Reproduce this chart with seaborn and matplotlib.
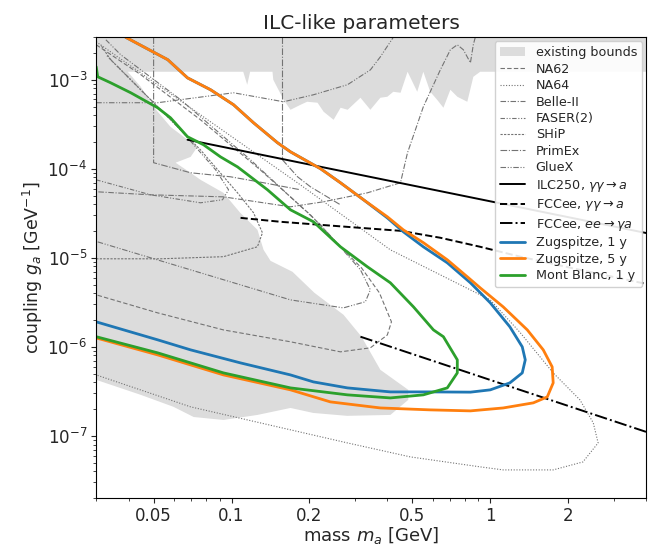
import numpy as np
import matplotlib
matplotlib.use("Agg")
import matplotlib.pyplot as plt
import matplotlib.ticker as mticker
from matplotlib.patches import Patch
import seaborn as sns

# existing bounds (grey region), mass [GeV] / coupling [GeV^-1]
bounds_m = [0.03, 4.0, 4.0, 0.914, 0.86, 0.815, 0.746, 0.701, 0.659, 0.623, 0.586, 0.551,
            0.522, 0.479, 0.450, 0.422, 0.400, 0.376, 0.344, 0.315, 0.281, 0.264, 0.248,
            0.227, 0.215, 0.196, 0.185, 0.169, 0.159, 0.145, 0.144, 0.118, 0.115, 0.111,
            0.0397, 0.0446, 0.05, 0.0581, 0.0676, 0.0714, 0.0739, 0.0695, 0.0608, 0.0695,
            0.076, 0.0931, 0.108, 0.126, 0.133, 0.1415, 0.172, 0.209, 0.271, 0.318, 0.376,
            0.482, 0.482, 0.411, 0.28, 0.207, 0.169, 0.126, 0.0931, 0.0714, 0.0597, 0.0446, 0.03]
bounds_g = [3e-3, 3e-3, 1.23e-3, 1.23e-3, 1.08e-3, 5.66e-4, 6.44e-4, 7.72e-4, 4.85e-4, 5.96e-4,
            7.33e-4, 1.23e-3, 7.33e-4, 1.23e-3, 7.14e-4, 7.33e-4, 6.44e-4, 6.28e-4, 4.6e-4,
            6.28e-4, 4.6e-4, 4.85e-4, 3.55e-4, 4.37e-4, 5.52e-4, 5.66e-4, 5.24e-4, 4.6e-4,
            5.96e-4, 1.0e-3, 1.23e-3, 1.23e-3, 8.79e-4, 1.23e-3, 1.23e-3, 8.34e-4, 4.97e-4,
            2.96e-4, 2.12e-4, 1.96e-4, 1.77e-4, 1.36e-4, 1.17e-4, 9.0e-5, 7.5e-5, 5.37e-5,
            3.21e-5, 2.06e-5, 1.23e-5, 9.25e-6, 6.97e-6, 4.05e-6, 2.29e-6, 1.3e-6, 5.52e-7,
            3.29e-7, 2.54e-7, 1.72e-7, 1.68e-7, 1.81e-7, 2.06e-7, 1.72e-7, 1.51e-7, 1.63e-7,
            2.12e-7, 2.89e-7, 4.26e-7]

# other experiments
na62_m = [0.03, 0.0446, 0.0759, 0.129, 0.2018, 0.2706, 0.3177, 0.3727, 0.415, 0.40, 0.344,
          0.2636, 0.169, 0.0931, 0.0518, 0.03]
na62_g = [2.47e-3, 1.14e-3, 3.55e-4, 9.75e-5, 3.04e-5, 1.23e-5, 7.73e-6, 4.05e-6, 1.91e-6,
          1.36e-6, 9.75e-7, 8.79e-7, 1.14e-6, 1.55e-6, 2.41e-6, 3.84e-6]
na64_m = [0.03, 0.0759, 0.1846, 0.411, 0.641, 1.0, 1.306, 1.75, 2.22, 2.50, 2.61, 2.28, 1.75,
          1.122, 0.914, 0.491, 0.2805, 0.169, 0.0695, 0.03]
na64_g = [2.67e-3, 4.04e-4, 6.6e-5, 1.23e-5, 6.44e-6, 3.37e-6, 1.44e-6, 5.1e-7, 2.54e-7,
          1.4e-7, 8.34e-8, 5.1e-8, 4.15e-8, 4.15e-8, 4.49e-8, 5.81e-8, 8.34e-8, 1.17e-7,
          2.12e-7, 4.84e-7]
belle_m = [0.875, 0.8596, 0.838, 0.787, 0.7456, 0.7009, 0.641, 0.5511, 0.4786, 0.4497, 0.335,
           0.2265, 0.169, 0.0931, 0.0487, 0.03]
belle_g = [3e-3, 2.47e-3, 1.55e-3, 2.17e-3, 2.47e-3, 2.17e-3, 1.29e-3, 4.97e-4, 1.51e-4,
           6.97e-5, 5.37e-5, 4.26e-5, 3.74e-5, 4.84e-5, 5.1e-5, 5.52e-5]
faser_m = [0.03, 0.0487, 0.0759, 0.0923, 0.0974, 0.0868, 0.0636, 0.0446, 0.0327]
faser_g = [7.52e-5, 5.1e-5, 4.15e-5, 4.49e-5, 5.81e-5, 9.75e-5, 2.74e-4, 7.72e-4, 1.91e-3]
ship_m = [0.03, 0.0532, 0.0931, 0.1259, 0.1317, 0.1216, 0.1055, 0.0759, 0.0487, 0.0341, 0.0312]
ship_g = [9.75e-6, 9.75e-6, 1.03e-5, 1.33e-5, 1.91e-5, 3.21e-5, 5.37e-5, 1.63e-4, 5.96e-4,
          1.68e-3, 2.47e-3]
primex_m = [0.05, 0.05, 0.0695, 0.0991, 0.133, 0.1846]
primex_g = [3e-3, 1.17e-4, 9.02e-5, 8.13e-5, 6.97e-5, 5.81e-5]
primex2_m = [0.1574, 0.1574, 0.18, 0.2018, 0.2636]
primex2_g = [3e-3, 1.26e-4, 8.13e-5, 6.28e-5, 3.94e-5]
gluex_m = [0.0304, 0.169, 0.2706, 0.329, 0.344, 0.315, 0.221, 0.1184, 0.0636, 0.0373, 0.0327]
gluex_g = [1.51e-5, 3.37e-6, 2.74e-6, 3.21e-6, 4.37e-6, 7.33e-6, 2.35e-5, 1.26e-4, 5.96e-4,
           1.91e-3, 2.81e-3]
gluex2_m = [0.03, 0.0518, 0.1018, 0.1588, 0.2073, 0.2805, 0.344, 0.376, 0.422]
gluex2_g = [5.52e-4, 5.52e-4, 7.14e-4, 5.66e-4, 6.78e-4, 8.79e-4, 1.29e-3, 1.81e-3, 3e-3]

# collider projections
ilc_m = [0.0676, 4.0]
ilc_g = [2.12e-4, 1.9e-5]
fcc_gg_m = [0.1084, 0.1545, 0.315, 0.450, 0.641, 0.914, 1.306, 2.22, 4.0]
fcc_gg_g = [2.81e-5, 2.54e-5, 2.17e-5, 2.01e-5, 1.68e-5, 1.33e-5, 1.03e-5, 7.33e-6, 5.1e-6]
fcc_ee_m = [0.315, 4.0]
fcc_ee_g = [1.3e-6, 1.11e-7]

# sensitivity curves
zug5_m = [0.039, 0.0567, 0.0676, 0.083, 0.1018, 0.1216, 0.1506, 0.169, 0.221, 0.2636, 0.3236,
          0.400, 0.4613, 0.5511, 0.682, 0.8151, 0.914, 1.122, 1.39, 1.602, 1.734, 1.75, 1.66,
          1.466, 1.122, 0.838, 0.586, 0.376, 0.241, 0.169, 0.0931, 0.0518, 0.03]
zug5_g = [3e-3, 1.68e-3, 1.05e-3, 7.72e-4, 5.24e-4, 3.29e-4, 1.96e-4, 1.55e-4, 1e-4, 6.97e-5,
          4.49e-5, 2.89e-5, 2.06e-5, 1.48e-5, 9.5e-6, 6.12e-6, 4.6e-6, 2.81e-6, 1.55e-6,
          9.25e-7, 5.96e-7, 3.94e-7, 2.74e-7, 2.35e-7, 2.06e-7, 1.91e-7, 1.96e-7, 2.06e-7,
          2.41e-7, 3.29e-7, 4.84e-7, 8.13e-7, 1.26e-6]
zug1_m = [0.039, 0.0567, 0.0676, 0.083, 0.1018, 0.1216, 0.1506, 0.169, 0.221, 0.2636, 0.3236,
          0.400, 0.4613, 0.5511, 0.682, 0.838, 1.0, 1.19, 1.329, 1.365, 1.329, 1.19, 1.0, 0.838,
          0.586, 0.411, 0.2805, 0.2073, 0.169, 0.1084, 0.0695, 0.0518, 0.03]
zug1_g = [3e-3, 1.68e-3, 1.05e-3, 7.72e-4, 5.24e-4, 3.29e-4, 1.96e-4, 1.55e-4, 1e-4, 6.97e-5,
          4.49e-5, 2.81e-5, 1.96e-5, 1.33e-5, 8.79e-6, 5.24e-6, 3.12e-6, 1.68e-6, 1e-6, 7.15e-7,
          5.1e-7, 3.94e-7, 3.29e-7, 3.1e-7, 3.12e-7, 3.12e-7, 3.46e-7, 4.04e-7, 4.84e-7, 6.6e-7,
          9.25e-7, 1.2e-6, 1.91e-6]
mb_m = [0.03, 0.0304, 0.0341, 0.0408, 0.0518, 0.0581, 0.0676, 0.078, 0.0907, 0.1055, 0.1184,
        0.1377, 0.169, 0.2073, 0.2636, 0.335, 0.411, 0.505, 0.603, 0.6588, 0.7456, 0.7456,
        0.682, 0.551, 0.411, 0.2805, 0.169, 0.0931, 0.0518, 0.03]
mb_g = [1.4e-3, 1.08e-3, 9.25e-4, 7.14e-4, 4.85e-4, 3.74e-4, 2.29e-4, 1.86e-4, 1.36e-4, 1.05e-4,
        8.13e-5, 5.81e-5, 3.46e-5, 2.54e-5, 1.33e-5, 7.93e-6, 5.24e-6, 2.81e-6, 1.55e-6, 1.3e-6,
        7.15e-7, 5.1e-7, 3.46e-7, 2.89e-7, 2.67e-7, 2.89e-7, 3.46e-7, 5.1e-7, 8.57e-7, 1.3e-6]

x_ticks = [0.05, 0.1, 0.2, 0.5, 1, 2]
x_ticklabels = ["0.05", "0.1", "0.2", "0.5", "1", "2"]

sns.set_style("ticks")
plt.rcParams["font.family"] = ["DejaVu Sans"]

fig, ax = plt.subplots(figsize=(6.5, 5.48), dpi=100)
fig.subplots_adjust(left=0.148, right=0.994, top=0.932, bottom=0.091)
ax.set_xscale("log")
ax.set_yscale("log")

ax.fill(bounds_m, bounds_g, color="#dcdcdc", lw=0, zorder=0)

grey = "0.45"
lw_g = 0.8
def grey_line(m, g, ls, label=None):
    sns.lineplot(x=m, y=g, sort=False, estimator=None, color=grey, lw=lw_g,
                 linestyle=ls, label=label, ax=ax)

grey_line(na62_m, na62_g, (0, (4, 2)), "NA62")
grey_line(na64_m, na64_g, (0, (1, 1.5)), "NA64")
grey_line(belle_m, belle_g, (0, (5, 1.5, 1, 1.5)), "Belle-II")
grey_line(faser_m, faser_g, (0, (4, 1.5, 1, 1.5, 1, 1.5)), "FASER(2)")
grey_line(ship_m, ship_g, (0, (2, 1.2)), "SHiP")
grey_line(primex_m, primex_g, (0, (6, 1.5, 1, 1.5)), "PrimEx")
grey_line(primex2_m, primex2_g, (0, (6, 1.5, 1, 1.5)))
grey_line(gluex_m, gluex_g, (0, (5, 1.5, 1, 1.5, 1, 1.5)), "GlueX")
grey_line(gluex2_m, gluex2_g, (0, (5, 1.5, 1, 1.5, 1, 1.5)))

sns.lineplot(x=ilc_m, y=ilc_g, sort=False, estimator=None, color="k", lw=1.4,
             label=r"ILC250, $\gamma\gamma \to a$", ax=ax)
sns.lineplot(x=fcc_gg_m, y=fcc_gg_g, sort=False, estimator=None, color="k", lw=1.4,
             linestyle="--", label=r"FCCee, $\gamma\gamma \to a$", ax=ax)
sns.lineplot(x=fcc_ee_m, y=fcc_ee_g, sort=False, estimator=None, color="k", lw=1.4,
             linestyle="-.", label=r"FCCee, $ee \to \gamma a$", ax=ax)

sns.lineplot(x=zug1_m, y=zug1_g, sort=False, estimator=None, color="#1f77b4", lw=2,
             label="Zugspitze, 1 y", ax=ax)
sns.lineplot(x=zug5_m, y=zug5_g, sort=False, estimator=None, color="#ff7f0e", lw=2,
             label="Zugspitze, 5 y", ax=ax)
sns.lineplot(x=mb_m, y=mb_g, sort=False, estimator=None, color="#2ca02c", lw=2,
             label="Mont Blanc, 1 y", ax=ax)

ax.set_xlim(0.03, 4.0)
ax.set_ylim(2e-8, 3e-3)
ax.xaxis.set_major_locator(mticker.FixedLocator(x_ticks))
ax.xaxis.set_major_formatter(mticker.FixedFormatter(x_ticklabels))
ax.xaxis.set_minor_locator(mticker.LogLocator(base=10, subs=np.arange(2, 10)))
ax.xaxis.set_minor_formatter(mticker.NullFormatter())
ax.yaxis.set_minor_locator(mticker.LogLocator(base=10, subs=np.arange(2, 10), numticks=20))
ax.tick_params(labelsize=12, pad=3)
for sp in ax.spines.values():
    sp.set_color("k")

ax.set_xlabel(r"mass $m_a$ [GeV]", fontsize=13, labelpad=0)
ax.set_ylabel(r"coupling $g_a$ [GeV$^{-1}$]", fontsize=12.5, labelpad=2)
ax.set_title("ILC-like parameters", fontsize=14.5, x=0.482)

handles, labels = ax.get_legend_handles_labels()
handles = [Patch(facecolor="#dcdcdc", edgecolor="none")] + handles
labels = ["existing bounds"] + labels
ax.legend(handles, labels, loc="upper right", fontsize=9.2, labelspacing=0.27,
          borderaxespad=0.3, framealpha=0.9)

fig.savefig("out.png", dpi=100)
